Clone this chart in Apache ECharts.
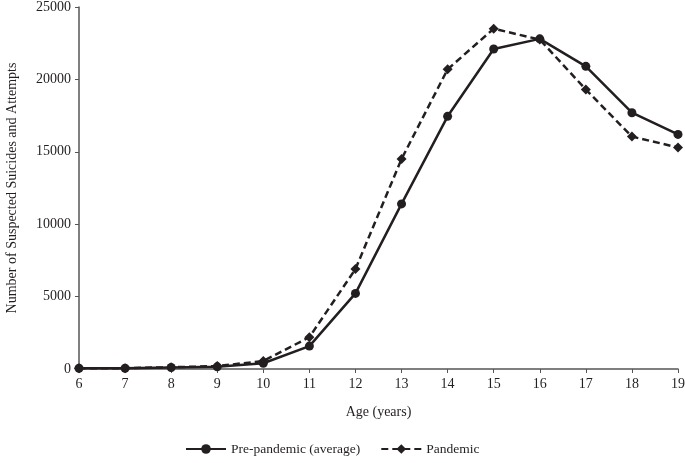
<!DOCTYPE html>
<html>
<head>
<meta charset="utf-8">
<script src="https://cdn.jsdelivr.net/npm/echarts@6/dist/echarts.min.js"></script>
<style>
  html, body { margin: 0; padding: 0; background: #fff; }
  #chart { width: 685px; height: 463px; }
</style>
</head>
<body>
<div id="chart"></div>
<script>
var ages = ['6', '7', '8', '9', '10', '11', '12', '13', '14', '15', '16', '17', '18', '19'];
var prePandemic = [50, 50, 100, 150, 400, 1580, 5220, 11400, 17450, 22100, 22800, 20900, 17700, 16200];
var pandemic = [50, 60, 120, 200, 550, 2200, 6900, 14500, 20700, 23500, 22750, 19300, 16050, 15300];

var font = '"Liberation Serif", "DejaVu Serif", serif';
var ink = '#231f20';

var myChart = echarts.init(document.getElementById('chart'));
var option = {
  backgroundColor: '#fff',
  animation: false,
  textStyle: { fontFamily: font },
  grid: { left: 79, right: 7, top: 7, bottom: 94, containLabel: false, outerBoundsMode: 'none' },
  legend: {
    bottom: 2,
    left: 180,
    itemWidth: 40,
    itemHeight: 12,
    itemGap: 20,
    textStyle: { fontFamily: font, fontSize: 13.5, color: ink },
    data: ['Pre-pandemic (average)', 'Pandemic']
  },
  xAxis: {
    type: 'category',
    data: ages,
    boundaryGap: false,
    name: 'Age (years)',
    nameLocation: 'middle',
    nameGap: 36,
    nameTextStyle: { fontFamily: font, fontSize: 14, color: ink },
    axisLine: { lineStyle: { color: '#555', width: 1.5 } },
    axisTick: { alignWithLabel: true, length: 4, lineStyle: { color: '#555' } },
    axisLabel: { fontFamily: font, fontSize: 14, color: ink, margin: 8 },
    splitLine: { show: false }
  },
  yAxis: {
    type: 'value',
    min: 0,
    max: 25000,
    interval: 5000,
    name: 'Number of Suspected Suicides and Attempts',
    nameLocation: 'middle',
    nameGap: 60,
    nameTextStyle: { fontFamily: font, fontSize: 14, color: ink },
    axisLine: { show: true, lineStyle: { color: '#555', width: 1.5 } },
    axisTick: { show: true, length: 4, lineStyle: { color: '#555' } },
    axisLabel: { fontFamily: font, fontSize: 14, color: ink, margin: 8, formatter: function (v) { return String(v); } },
    splitLine: { show: false }
  },
  series: [
    {
      name: 'Pre-pandemic (average)',
      type: 'line',
      data: prePandemic,
      symbol: 'circle',
      symbolSize: 9,
      lineStyle: { color: ink, width: 2.5, type: 'solid' },
      itemStyle: { color: ink },
      z: 3
    },
    {
      name: 'Pandemic',
      type: 'line',
      data: pandemic,
      symbol: 'diamond',
      symbolSize: 10,
      lineStyle: { color: ink, width: 2.5, type: [7, 4] },
      itemStyle: { color: ink },
      z: 2
    }
  ]
};
myChart.setOption(option);
</script>
</body>
</html>
